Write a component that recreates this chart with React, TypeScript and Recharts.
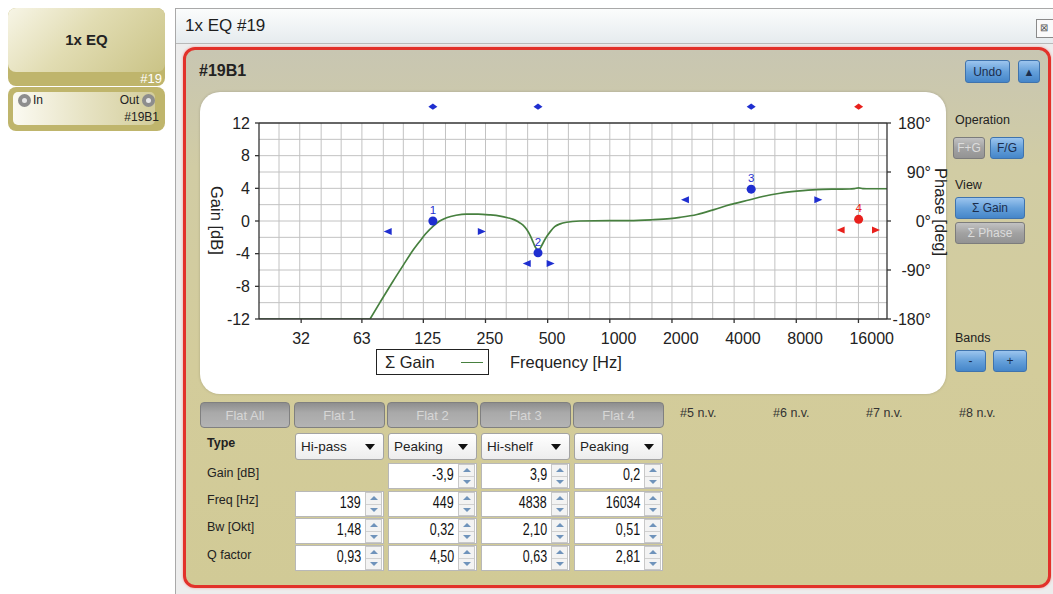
import React from 'react';
import {
  ComposedChart,
  Line,
  Scatter,
  XAxis,
  YAxis,
  CartesianGrid,
  ReferenceLine,
  ReferenceDot,
} from 'recharts';

// axes
const freqTicks = [32, 63, 125, 250, 500, 1000, 2000, 4000, 8000, 16000];
const gainTicks = [-12, -8, -4, 0, 4, 8, 12];
const phaseTicks = [-180, -90, 0, 90, 180];
const gridFreqs = [
  25, 31.5, 40, 50, 63, 80, 100, 125, 160, 200, 250, 315, 400, 500, 630, 800, 1000, 1250, 1600,
  2000, 2500, 3150, 4000, 5000, 6300, 8000, 10000, 12500, 16000, 20000,
];
const gridGains = [-10, -8, -6, -4, -2, 0, 2, 4, 6, 8, 10];

// summed gain curve (clamped at -12 below 69 Hz)
const floorFreq = [20, 69];
const floorGain = [-12, -12];
const curveFreq = [
  69, 77, 89, 100, 112, 120, 128, 140, 150, 162, 180, 202, 230, 263, 294, 320, 341, 360, 380, 396,
  410, 422, 432, 441, 449, 457, 466, 477, 495, 515, 541, 575, 617, 716, 1000, 1244, 1600, 1957,
  2187, 2645, 3200, 3820, 4770, 5500, 6672, 8040, 10030, 12500, 14500, 15300, 16034, 16800,
  17500, 22000,
];
const curveGain = [
  -12, -10, -7.4, -5.4, -3.5, -2.5, -1.6, -0.6, 0, 0.4, 0.7, 0.85, 0.85, 0.75, 0.6, 0.4, 0.2,
  -0.1, -0.5, -1.05, -1.7, -2.4, -3.0, -3.4, -3.6, -3.5, -3.1, -2.6, -1.9, -1.3, -0.7, -0.35,
  -0.15, 0, 0.05, 0.05, 0.15, 0.3, 0.45, 0.8, 1.4, 2.0, 2.6, 3.0, 3.4, 3.65, 3.85, 3.9, 3.92,
  3.97, 4.05, 3.97, 3.95, 3.95,
];

// bands
const bandTypes = ['Hi-pass', 'Peaking', 'Hi-shelf', 'Peaking'];
const bandFreq = [139, 449, 4838, 16034];
const bandGain = [0, -3.9, 3.9, 0.2];
const bandBw = [1.48, 0.32, 2.1, 0.51];
const bandQ = [0.93, 4.5, 0.63, 2.81];
const bandColor = ['#1f2fd0', '#1f2fd0', '#1f2fd0', '#e8201c'];
const bandLow = [84, 396, 2312, 13120];
const bandHigh = [240, 517, 10230, 19460];
const handleGain = [-1.3, -5.2, 2.6, -1.1];
const handleRow = 14;

const FONT = "'Liberation Sans', Arial, sans-serif";
const GREEN = '#47803f';

const floor = floorFreq.map((f, i) => ({ f, g: floorGain[i] }));
const curve = curveFreq.map((f, i) => ({ f, g: curveGain[i] }));
const bandPoints = bandFreq.map((f, i) => ({ f, g: bandGain[i], n: i + 1, c: bandColor[i] }));
const handles = bandFreq.flatMap((_, i) => [
  { f: bandLow[i], g: handleGain[i], dir: 'l', c: bandColor[i] },
  { f: bandHigh[i], g: handleGain[i], dir: 'r', c: bandColor[i] },
]);

const fmt = (v: number, d: number) => v.toFixed(d).replace('.', ',');

const BandDot = (p: any) => (
  <g>
    <circle cx={p.cx} cy={p.cy} r={4.5} fill={p.payload.c} />
    <text x={p.cx} y={p.cy - 7} textAnchor="middle" fontSize={11.5} fill={p.payload.c} fontFamily={FONT}>
      {p.payload.n}
    </text>
  </g>
);

const Handle = (p: any) => {
  const d = p.payload.dir === 'l' ? -1 : 1;
  return (
    <path
      d={`M${p.cx + 4 * d},${p.cy} L${p.cx - 4 * d},${p.cy - 3.5} L${p.cx - 4 * d},${p.cy + 3.5} Z`}
      fill={p.payload.c}
    />
  );
};

const diamond = (c: string) => (p: any) => (
  <path
    d={`M${p.cx - 4.5},${p.cy} L${p.cx},${p.cy - 3.2} L${p.cx + 4.5},${p.cy} L${p.cx},${p.cy + 3.2} Z`}
    fill={c}
  />
);

const FreqTick = (p: any) => (
  <text x={p.x - 9} y={p.y + 13} textAnchor="start" fontSize={16} fill="#222" fontFamily={FONT}>
    {p.payload.value}
  </text>
);
const GainTick = (p: any) => (
  <text x={p.x} y={p.y + 5.5} textAnchor="end" fontSize={16} fill="#222" fontFamily={FONT}>
    {p.payload.value}
  </text>
);
const PhaseTick = (p: any) => (
  <text x={p.x} y={p.y + 5.5} textAnchor="end" fontSize={16} fill="#222" fontFamily={FONT}>
    {p.payload.value + '°'}
  </text>
);

const box = (l: number, t: number, w: number, h: number, s: React.CSSProperties = {}): React.CSSProperties => ({
  position: 'absolute',
  left: l,
  top: t,
  width: w,
  height: h,
  boxSizing: 'border-box',
  ...s,
});

const blueBtn: React.CSSProperties = {
  border: '1px solid #3f73ad',
  borderRadius: 3,
  background: 'linear-gradient(180deg,#9cc5ee 0%,#65a0da 50%,#4586c9 100%)',
  color: '#1b2d4d',
  fontSize: 12,
  display: 'flex',
  alignItems: 'center',
  justifyContent: 'center',
};
const grayBtn: React.CSSProperties = {
  ...blueBtn,
  border: '1px solid #7c7c7c',
  background: 'linear-gradient(180deg,#c2c2c2 0%,#a2a2a2 50%,#939393 100%)',
  color: '#dcdcdc',
};
const flatBtn: React.CSSProperties = {
  ...grayBtn,
  borderRadius: 4,
  border: '1px solid #808080',
  background: 'linear-gradient(180deg,#8e8e8e 0%,#a9a9a9 40%,#b4b4b4 100%)',
  color: '#d6d6d6',
  fontSize: 13,
};

const Spinner = () => (
  <div style={box(0, 0, 17, 24, { left: 'auto', right: 1, top: 0, border: '1px solid #c8c8c8', background: '#f3f3f3' })}>
    <div style={{ position: 'absolute', left: 4, top: 3, width: 0, height: 0, borderLeft: '4px solid transparent', borderRight: '4px solid transparent', borderBottom: '4px solid #6f93bb' }} />
    <div style={{ position: 'absolute', left: 0, top: 11, width: 15, borderTop: '1px solid #d0d0d0' }} />
    <div style={{ position: 'absolute', left: 4, top: 15, width: 0, height: 0, borderLeft: '4px solid transparent', borderRight: '4px solid transparent', borderTop: '4px solid #6f93bb' }} />
  </div>
);

const NumField = ({ x, y, text }: { x: number; y: number; text: string }) => (
  <div style={box(x, y, 89, 26, { background: '#fff', border: '1px solid #b8b8b8' })}>
    <div style={{ position: 'absolute', right: 22, top: 2, fontSize: 16, color: '#111', transform: 'scaleX(0.78)', transformOrigin: 'right center' }}>
      {text}
    </div>
    <Spinner />
  </div>
);

const colX = [295, 388, 481, 574];
const rowLabels = ['Type', 'Gain [dB]', 'Freq [Hz]', 'Bw [Okt]', 'Q factor'];
const rowY = [436, 466, 493, 520, 548];

export default function App() {
  return (
    <div style={box(0, 0, 1053, 594, { background: '#fff', overflow: 'hidden', fontFamily: FONT, color: '#222' })}>
      {/* block card */}
      <div style={box(8, 8, 157, 78, { background: '#bfb56c', borderRadius: 8 })}>
        <div style={box(0, 0, 157, 64, { borderRadius: 8, background: 'linear-gradient(135deg,#f7f5e6 0%,#e1dcb2 45%,#cac386 100%)' })} />
        <div style={{ position: 'absolute', left: 0, width: 157, top: 23, textAlign: 'center', fontWeight: 'bold', fontSize: 15 }}>1x EQ</div>
        <div style={{ position: 'absolute', right: 3, top: 63, color: '#fff', fontSize: 13 }}>#19</div>
      </div>
      <div style={box(8, 87, 157, 44, { background: '#bfb56c', borderRadius: 8 })}>
        <div style={box(5, 5, 142, 33, { borderRadius: 5, background: 'linear-gradient(90deg,#fbfaf2 0%,#e7e3c4 50%,#d3cd9b 100%)' })} />
        <div style={box(10, 7, 13, 13, { borderRadius: 7, background: '#e8e8e8', border: '4px solid #8d8d8d' })} />
        <div style={{ position: 'absolute', left: 25, top: 6, fontSize: 12 }}>In</div>
        <div style={{ position: 'absolute', right: 26, top: 6, fontSize: 12 }}>Out</div>
        <div style={box(134, 7, 13, 13, { borderRadius: 7, background: '#e8e8e8', border: '4px solid #8d8d8d' })} />
        <div style={{ position: 'absolute', right: 6, top: 23, fontSize: 12 }}>#19B1</div>
      </div>

      {/* window */}
      <div style={box(175, 8, 890, 600, { border: '1px solid #a9a9a9', background: '#ededed' })} />
      <div style={box(176, 9, 880, 35, { background: 'linear-gradient(180deg,#fbfcfc 0%,#eef2f4 60%,#e6ebee 100%)', borderBottom: '1px solid #b9b9b9' })} />
      <div style={{ position: 'absolute', left: 185, top: 16, fontSize: 17, color: '#1e1e1e' }}>1x EQ #19</div>
      <div style={box(1036, 19, 18, 19, { border: '1px solid #8a8a8a', background: '#fafafa', fontSize: 10, color: '#555', paddingLeft: 3, lineHeight: '16px' })}>⊠</div>

      {/* red panel */}
      <div style={box(183, 47, 868, 541, {
        border: '3px solid #e2312a',
        borderRadius: 12,
        background: 'linear-gradient(180deg,#c8c6b2 0%,#d1cca4 22%,#d3cc9b 60%,#d1ca96 100%)',
        boxShadow: '0 0 3px #f29a9a',
      })} />
      <div style={{ position: 'absolute', left: 199, top: 62, fontSize: 16, fontWeight: 'bold' }}>#19B1</div>
      <div style={box(965, 60, 45, 23, blueBtn)}>Undo</div>
      <div style={box(1018, 60, 22, 23, { ...blueBtn, fontSize: 11 })}>▲</div>

      {/* chart panel */}
      <div style={box(200, 92, 746, 302, { background: '#fff', borderRadius: 20, boxShadow: '0 0 3px rgba(0,0,0,0.18)' })} />
      <div style={{ position: 'absolute', left: 200, top: 92, width: 746, height: 302 }}>
        <ComposedChart width={746} height={302} margin={{ top: 31, right: 0, bottom: 0, left: 0 }}>
          <CartesianGrid
            yAxisId="g"
            horizontalValues={gridGains}
            verticalValues={gridFreqs}
            stroke="#c2c2c2"
            strokeWidth={1}
          />
          <XAxis
            dataKey="f"
            type="number"
            scale="log"
            domain={[20, 22000]}
            allowDataOverflow
            ticks={freqTicks}
            interval={0}
            height={75}
            tickSize={4}
            tickMargin={8}
            tick={<FreqTick />}
            stroke="#333"
            strokeWidth={1.3}
          />
          <YAxis
            yAxisId="g"
            orientation="left"
            type="number"
            domain={[-12, 12]}
            allowDataOverflow
            ticks={gainTicks}
            interval={0}
            width={59}
            tickSize={4}
            tickMargin={5}
            tick={<GainTick />}
            stroke="#333"
            strokeWidth={1.3}
          />
          <YAxis
            yAxisId="p"
            orientation="right"
            type="number"
            domain={[-180, 180]}
            allowDataOverflow
            ticks={phaseTicks}
            interval={0}
            width={59}
            tickSize={4}
            tickMargin={40}
            tick={<PhaseTick />}
            stroke="#333"
            strokeWidth={1.3}
          />
          <ReferenceLine yAxisId="g" y={12} stroke="#333" strokeWidth={1.3} />
          <Line
            yAxisId="g"
            data={floor}
            dataKey="g"
            type="linear"
            stroke={GREEN}
            strokeWidth={1.7}
            dot={false}
            isAnimationActive={false}
          />
          <Line
            yAxisId="g"
            data={curve}
            dataKey="g"
            type="monotone"
            stroke={GREEN}
            strokeWidth={1.7}
            dot={false}
            isAnimationActive={false}
          />
          <Scatter yAxisId="g" data={handles} dataKey="g" shape={Handle} isAnimationActive={false} />
          <Scatter yAxisId="g" data={bandPoints} dataKey="g" shape={BandDot} isAnimationActive={false} />
          {bandFreq.map((f, i) => (
            <ReferenceDot
              key={i}
              yAxisId="g"
              x={f}
              y={handleRow}
              ifOverflow="visible"
              shape={diamond(bandColor[i])}
            />
          ))}
        </ComposedChart>
      </div>
      <div style={{ position: 'absolute', left: 208, top: 186, writingMode: 'vertical-rl', fontSize: 16.5, lineHeight: '18px' }}>Gain [dB]</div>
      <div style={{ position: 'absolute', left: 932, top: 168, writingMode: 'vertical-rl', fontSize: 16.5, lineHeight: '18px' }}>Phase [deg]</div>
      <div style={box(376, 349, 113, 26, { border: '1.5px solid #222', background: '#fff' })}>
        <div style={{ position: 'absolute', left: 8, top: 3, fontSize: 16.5 }}>Σ Gain</div>
        <div style={{ position: 'absolute', left: 84, top: 12, width: 22, borderTop: `1.5px solid ${GREEN}` }} />
      </div>
      <div style={{ position: 'absolute', left: 510, top: 353, fontSize: 16.5 }}>Frequency [Hz]</div>

      {/* side controls */}
      <div style={{ position: 'absolute', left: 955, top: 113, fontSize: 12.5 }}>Operation</div>
      <div style={box(953, 137, 32, 22, grayBtn)}>F+G</div>
      <div style={box(990, 137, 34, 22, blueBtn)}>F/G</div>
      <div style={{ position: 'absolute', left: 955, top: 178, fontSize: 12.5 }}>View</div>
      <div style={box(955, 197, 70, 22, blueBtn)}>Σ Gain</div>
      <div style={box(955, 222, 70, 22, grayBtn)}>Σ Phase</div>
      <div style={{ position: 'absolute', left: 955, top: 331, fontSize: 12.5 }}>Bands</div>
      <div style={box(955, 350, 31, 22, blueBtn)}>-</div>
      <div style={box(993, 350, 34, 22, blueBtn)}>+</div>

      {/* band table */}
      <div style={box(200, 402, 90, 26, flatBtn)}>Flat All</div>
      {colX.map((x, i) => (
        <div key={'fb' + i} style={box(x - 1, 402, 91, 26, flatBtn)}>{'Flat ' + (i + 1)}</div>
      ))}
      {['#5 n.v.', '#6 n.v.', '#7 n.v.', '#8 n.v.'].map((t, i) => (
        <div key={t} style={{ position: 'absolute', left: 680 + i * 93, top: 406, fontSize: 12.5, color: '#333' }}>{t}</div>
      ))}
      {rowLabels.map((t, i) => (
        <div key={t} style={{ position: 'absolute', left: 207, top: rowY[i], fontSize: 12.5, fontWeight: i === 0 ? 600 : 400 }}>{t}</div>
      ))}
      {colX.map((x, i) => (
        <div key={'dd' + i} style={box(x, 433, 89, 27, { border: '1px solid #a3a3a3', borderRadius: 3, background: 'linear-gradient(180deg,#ffffff 0%,#ededed 100%)' })}>
          <div style={{ position: 'absolute', left: 5, top: 5, fontSize: 13.5 }}>{bandTypes[i]}</div>
          <div style={{ position: 'absolute', right: 8, top: 10, width: 0, height: 0, borderLeft: '5px solid transparent', borderRight: '5px solid transparent', borderTop: '6px solid #111' }} />
        </div>
      ))}
      {colX.map((x, i) =>
        bandTypes[i] === 'Hi-pass' ? null : <NumField key={'g' + i} x={x} y={463} text={fmt(bandGain[i], 1)} />
      )}
      {colX.map((x, i) => (
        <NumField key={'f' + i} x={x} y={491} text={String(bandFreq[i])} />
      ))}
      {colX.map((x, i) => (
        <NumField key={'b' + i} x={x} y={518} text={fmt(bandBw[i], 2)} />
      ))}
      {colX.map((x, i) => (
        <NumField key={'q' + i} x={x} y={545} text={fmt(bandQ[i], 2)} />
      ))}
    </div>
  );
}
